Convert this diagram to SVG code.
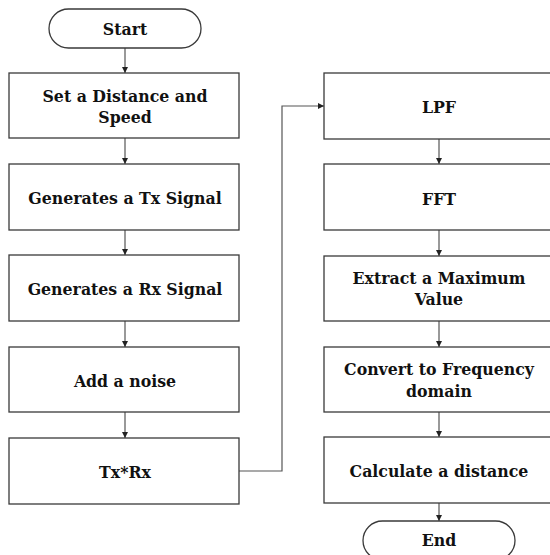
<svg xmlns="http://www.w3.org/2000/svg" width="550" height="555" viewBox="0 0 550 555">
<defs>
<style>
.box{fill:#fff;stroke:#3a3a3a;stroke-width:1.3}
.t{font-family:'DejaVu Serif Condensed','DejaVu Serif',serif;font-stretch:condensed;font-weight:bold;font-size:17.5px;fill:#111;text-anchor:middle}
.c{fill:none;stroke:#555;stroke-width:1.2}
</style>
<marker id="ah" viewBox="0 0 10 10" refX="10" refY="5" markerWidth="6" markerHeight="6" markerUnits="userSpaceOnUse" orient="auto">
<path d="M0,0 L10,5 L0,10 Z" fill="#222"/>
</marker>
</defs>
<rect width="550" height="555" fill="#fff"/>
<g id="connectors">
<line class="c" x1="125" y1="48" x2="125" y2="73" marker-end="url(#ah)"/>
<line class="c" x1="125" y1="138" x2="125" y2="164" marker-end="url(#ah)"/>
<line class="c" x1="125" y1="230" x2="125" y2="255" marker-end="url(#ah)"/>
<line class="c" x1="125" y1="321" x2="125" y2="347" marker-end="url(#ah)"/>
<line class="c" x1="125" y1="412" x2="125" y2="438" marker-end="url(#ah)"/>
<polyline class="c" points="239,471 282,471 282,106 324,106" marker-end="url(#ah)"/>
<line class="c" x1="439" y1="139" x2="439" y2="164" marker-end="url(#ah)"/>
<line class="c" x1="439" y1="230" x2="439" y2="256" marker-end="url(#ah)"/>
<line class="c" x1="439" y1="321" x2="439" y2="347" marker-end="url(#ah)"/>
<line class="c" x1="439" y1="412" x2="439" y2="437" marker-end="url(#ah)"/>
<line class="c" x1="439" y1="503" x2="439" y2="521" marker-end="url(#ah)"/>
</g>
<g id="start"><rect class="box" x="49" y="9" width="152" height="39" rx="19.5"/><text class="t" x="125" y="35">Start</text></g>
<g id="setDistance"><rect class="box" x="9" y="73" width="230" height="65"/><text class="t" x="125" y="102">Set a Distance and</text><text class="t" x="125" y="123">Speed</text></g>
<g id="genTx"><rect class="box" x="9" y="164" width="230" height="66"/><text class="t" x="125" y="204">Generates a Tx Signal</text></g>
<g id="genRx"><rect class="box" x="9" y="255" width="230" height="66"/><text class="t" x="125" y="295">Generates a Rx Signal</text></g>
<g id="noise"><rect class="box" x="9" y="347" width="230" height="65"/><text class="t" x="125" y="387">Add a noise</text></g>
<g id="txrx"><rect class="box" x="9" y="438" width="230" height="66"/><text class="t" x="125" y="478">Tx*Rx</text></g>
<g id="lpf"><rect class="box" x="324" y="73" width="230" height="66"/><text class="t" x="439" y="113">LPF</text></g>
<g id="fft"><rect class="box" x="324" y="164" width="230" height="66"/><text class="t" x="439" y="205">FFT</text></g>
<g id="extract"><rect class="box" x="324" y="256" width="230" height="65"/><text class="t" x="439" y="284">Extract a Maximum</text><text class="t" x="439" y="305">Value</text></g>
<g id="convert"><rect class="box" x="324" y="347" width="230" height="65"/><text class="t" x="439" y="375">Convert to Frequency</text><text class="t" x="439" y="397">domain</text></g>
<g id="calc"><rect class="box" x="324" y="437" width="230" height="66"/><text class="t" x="439" y="477">Calculate a distance</text></g>
<g id="end"><rect class="box" x="363" y="521" width="152" height="39" rx="19.5"/><text class="t" x="439" y="546">End</text></g>
</svg>
